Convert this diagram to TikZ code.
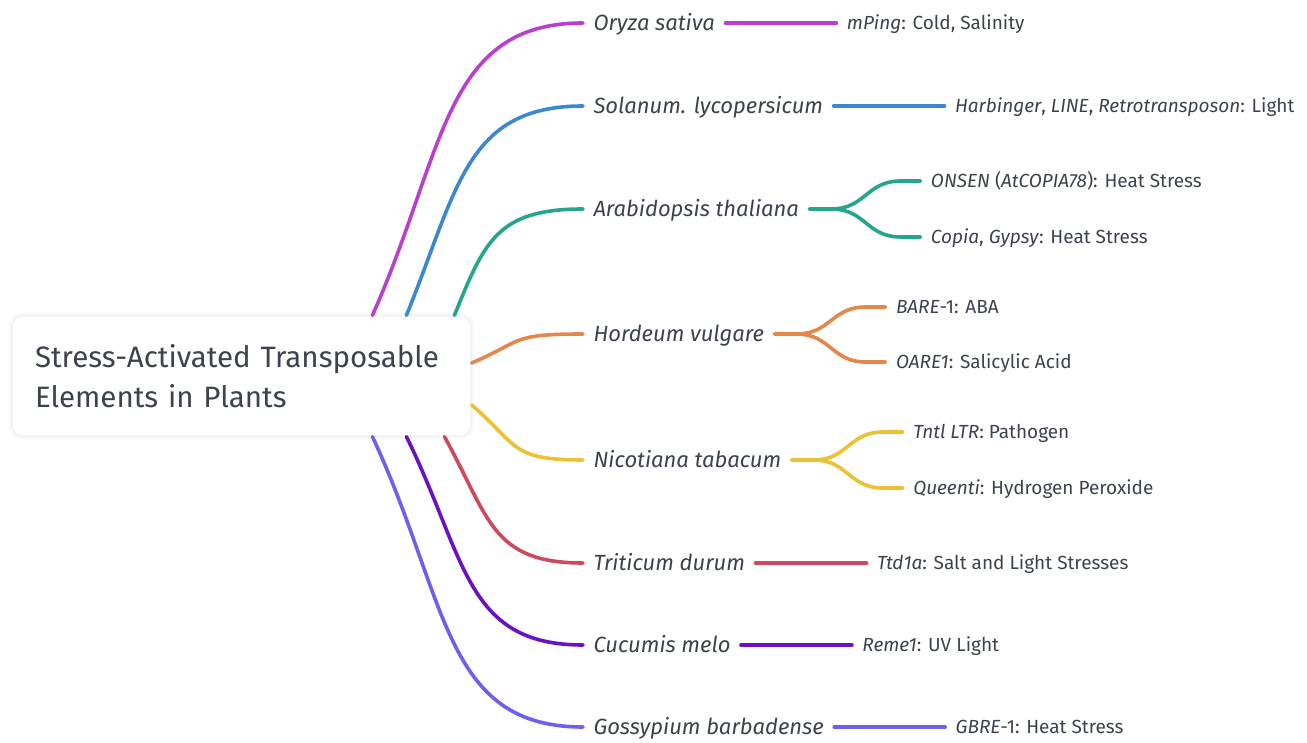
\documentclass[tikz,border=0pt]{standalone}
\usepackage{fontspec}
\setmainfont{Fira Sans}
\usetikzlibrary{backgrounds}
\definecolor{ink}{HTML}{3D434E}
\definecolor{boxline}{HTML}{EEEFF1}
\definecolor{cOry}{HTML}{B940CF}
\definecolor{cSol}{HTML}{3C87D2}
\definecolor{cAra}{HTML}{25A48E}
\definecolor{cHor}{HTML}{E4874A}
\definecolor{cNic}{HTML}{EDC136}
\definecolor{cTri}{HTML}{CC4A5C}
\definecolor{cCuc}{HTML}{6A12C2}
\definecolor{cGos}{HTML}{6E60EA}

\begin{document}
\begin{tikzpicture}[x=1pt,y=-1pt,
  branch/.style={line width=3.6pt, line cap=round},
  species/.style={anchor=west, font=\fontsize{22}{26}\selectfont\itshape, text=ink,
    inner ysep=0pt, inner xsep=0pt, outer xsep=10.5pt, outer ysep=0pt,
    text height=15.2pt, text depth=0pt},
  leaf/.style={anchor=west, font=\fontsize{19}{22}\selectfont, text=ink,
    inner ysep=0pt, inner xsep=0pt, outer xsep=10.5pt, outer ysep=0pt,
    text height=13.1pt, text depth=0pt},
  rootbox/.style={draw=boxline, line width=1.2pt, fill=white, rounded corners=10pt,
    minimum width=459pt, minimum height=120pt, text width=413pt, inner xsep=23pt,
    align=left, font=\fontsize{29.5}{40}\selectfont, text=ink}
]
\fill[white, use as bounding box] (0,0) rectangle (1307,743);

% soft halo round the central topic
\fill[black, opacity=0.025, rounded corners=12pt] (9,313) rectangle (474,439);

% central topic
\node[rootbox] (root) at (241.5,376) {Stress-Activated Transposable\\Elements in Plants};

% species
\node[species] (s1) at (583,23)  {Oryza sativa};
\node[species] (s2) at (583,106) {Solanum. lycopersicum};
\node[species] (s3) at (583,209) {Arabidopsis thaliana};
\node[species] (s4) at (583,334) {Hordeum vulgare};
\node[species] (s5) at (583,460) {Nicotiana tabacum};
\node[species] (s6) at (583,563) {Triticum durum};
\node[species] (s7) at (583,645) {Cucumis melo};
\node[species] (s8) at (583,727) {Gossypium barbadense};

% elements and stresses
\node[leaf] (l1)  at ([xshift=111pt]s1.east) {\textit{mPing}: Cold, Salinity};
\node[leaf] (l2)  at ([xshift=111pt]s2.east) {\textit{Harbinger}, \textit{LINE}, \textit{Retrotransposon}: Light};
\node[leaf] (l3a) at ([shift={(111pt,28pt)}]s3.east)  {\textit{ONSEN} (\textit{AtCOPIA78}): Heat Stress};
\node[leaf] (l3b) at ([shift={(111pt,-28pt)}]s3.east) {\textit{Copia}, \textit{Gypsy}: Heat Stress};
\node[leaf] (l4a) at ([shift={(111pt,27pt)}]s4.east)  {\textit{BARE}-1: ABA};
\node[leaf] (l4b) at ([shift={(111pt,-28pt)}]s4.east) {\textit{OARE1}: Salicylic Acid};
\node[leaf] (l5a) at ([shift={(111pt,28pt)}]s5.east)  {\textit{Tntl LTR}: Pathogen};
\node[leaf] (l5b) at ([shift={(111pt,-28pt)}]s5.east) {\textit{Queenti}: Hydrogen Peroxide};
\node[leaf] (l6)  at ([xshift=111pt]s6.east) {\textit{Ttd1a}: Salt and Light Stresses};
\node[leaf] (l7)  at ([xshift=111pt]s7.east) {\textit{Reme1}: UV Light};
\node[leaf] (l8)  at ([xshift=111pt]s8.east) {\textit{GBRE}-1: Heat Stress};

% branches from the central topic
\draw[branch,cOry] ([xshift=361pt]root.north west) .. controls +(73,-164) and +(-140,0) .. (s1.west);
\draw[branch,cSol] ([xshift=395pt]root.north west) .. controls +(51,-125) and +(-118,0) .. (s2.west);
\draw[branch,cAra] ([xshift=443pt]root.north west) .. controls +(30,-74) and +(-86,0) .. (s3.west);
\draw[branch,cHor] ([yshift=13pt]root.east) .. controls +(52,-22) and +(-74,0) .. (s4.west);
\draw[branch,cNic] ([yshift=-29pt]root.east) .. controls +(47,40) and +(-74,0) .. (s5.west);
\draw[branch,cTri] ([xshift=433pt]root.south west) .. controls +(45,81) and +(-92,0) .. (s6.west);
\draw[branch,cCuc] ([xshift=395pt]root.south west) .. controls +(60,122) and +(-118,0) .. (s7.west);
\draw[branch,cGos] ([xshift=361pt]root.south west) .. controls +(76,163) and +(-140,0) .. (s8.west);

% branches to the elements
\draw[branch,cOry] (s1.east) -- (l1.west);
\draw[branch,cSol] (s2.east) -- (l2.west);
\draw[branch,cAra] (s3.east) -- ++(22,0) .. controls +(34,0) and +(-34,0) .. ([xshift=-20pt]l3a.west) -- (l3a.west);
\draw[branch,cAra] (s3.east) -- ++(22,0) .. controls +(34,0) and +(-34,0) .. ([xshift=-20pt]l3b.west) -- (l3b.west);
\draw[branch,cHor] (s4.east) -- ++(22,0) .. controls +(34,0) and +(-34,0) .. ([xshift=-20pt]l4a.west) -- (l4a.west);
\draw[branch,cHor] (s4.east) -- ++(22,0) .. controls +(34,0) and +(-34,0) .. ([xshift=-20pt]l4b.west) -- (l4b.west);
\draw[branch,cNic] (s5.east) -- ++(22,0) .. controls +(34,0) and +(-34,0) .. ([xshift=-20pt]l5a.west) -- (l5a.west);
\draw[branch,cNic] (s5.east) -- ++(22,0) .. controls +(34,0) and +(-34,0) .. ([xshift=-20pt]l5b.west) -- (l5b.west);
\draw[branch,cTri] (s6.east) -- (l6.west);
\draw[branch,cCuc] (s7.east) -- (l7.west);
\draw[branch,cGos] (s8.east) -- (l8.west);
\end{tikzpicture}
\end{document}
